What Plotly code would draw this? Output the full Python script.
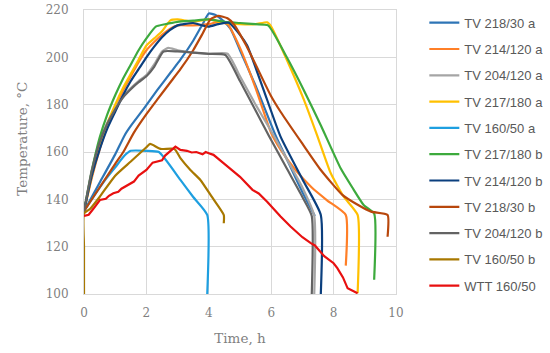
import plotly.graph_objects as go

# ---------------- data ----------------
names = ["TV 218/30 a", "TV 214/120 a", "TV 204/120 a", "TV 217/180 a", "TV 160/50 a",
         "TV 217/180 b", "TV 214/120 b", "TV 218/30 b", "TV 204/120 b", "TV 160/50 b",
         "WTT 160/50"]
colors = ["#2E75B6", "#FF7F27", "#A5A5A5", "#FFC000", "#1E9FE0",
          "#3DAA3D", "#0B3F7E", "#B8470C", "#636363", "#A87800", "#E81010"]

t_218_30_a = [0, 0.5, 1.0, 1.3, 1.5, 1.9, 2.34, 2.8, 3.09, 3.5, 3.8, 4.0, 4.2, 4.5, 4.7, 5.0, 5.5, 6.14, 6.5, 7.0, 7.4]
T_218_30_a = [135, 147, 159, 167, 171, 178, 186, 194, 199, 207, 214, 218.5, 218, 215, 212, 203, 188, 167, 157, 143, 133]

t_214_120_a = [0, 0.25, 0.5, 0.75, 1.0, 1.25, 1.5, 1.75, 2.0, 2.25, 2.5, 2.75, 3.0, 3.5, 4.0, 4.3, 4.6, 5.0, 5.5, 6.0, 6.3, 6.78, 7.3, 7.8, 8.39, 8.39]
T_214_120_a = [135, 149, 161, 171, 179, 186, 192, 198, 203, 206.5, 209.5, 212, 213.5, 213.5, 214, 215, 214, 204, 187, 168, 161, 152.4, 145, 139.5, 133.4, 112]

t_204_120_a = [0, 0.25, 0.5, 0.75, 1.0, 1.25, 1.5, 1.75, 2.0, 2.25, 2.5, 2.7, 3.0, 3.5, 4.0, 4.6, 5.0, 5.5, 6.08, 6.5, 7.0, 7.38, 7.38]
T_204_120_a = [135, 152.5, 164.5, 172.5, 178.5, 183.5, 187, 190, 192.5, 197, 202.5, 204, 203, 202, 201.5, 201.5, 192, 180, 167, 157, 145, 133, 100]

t_217_180_a = [0, 0.25, 0.5, 0.75, 1.0, 1.25, 1.5, 1.75, 2.0, 2.25, 2.5, 2.77, 3.0, 3.25, 3.5, 4.0, 4.5, 5.0, 5.5, 5.87, 6.0, 6.5, 7.05, 7.5, 7.91, 8.33, 8.77, 8.77]
T_217_180_a = [135, 150, 162, 172, 180, 187, 193, 199, 205, 208, 211, 215.6, 216, 215.5, 215, 216, 214.5, 214, 214, 214.8, 213, 199, 182, 166, 151, 141, 133.4, 100.3]

t_160_50_a = [0, 0.3, 0.68, 1.0, 1.3, 1.5, 2.0, 2.4, 3.09, 3.5, 3.95, 3.95]
T_160_50_a = [135, 141, 148.2, 153.5, 158.5, 160.5, 160.5, 160, 148.2, 141, 133.4, 100]

t_217_180_b = [0, 0.25, 0.5, 0.75, 1.0, 1.25, 1.5, 1.75, 2.0, 2.3, 2.6, 3.0, 3.5, 4.0, 4.5, 5.0, 5.5, 5.9, 6.5, 7.05, 7.6, 8.23, 8.6, 8.97, 9.3, 9.3]
T_217_180_b = [135, 152, 166, 176, 184, 191, 197, 203, 208, 213, 214, 215, 215.5, 216, 215, 214.5, 214, 213.5, 200, 186, 171, 153, 145, 137.5, 134, 106]

t_214_120_b = [0, 0.25, 0.5, 0.75, 1.0, 1.25, 1.5, 1.75, 2.0, 2.25, 2.5, 2.75, 3.0, 3.5, 3.8, 4.0, 4.3, 4.64, 5.0, 5.23, 5.75, 6.3, 7.0, 7.59, 7.59]
T_214_120_b = [135, 150, 161, 170, 177, 184, 190, 195, 200, 204.5, 208.5, 211.5, 213.5, 214.5, 213.5, 213, 214, 214.6, 209.5, 205, 186.5, 166.5, 148.5, 133.4, 100]

t_218_30_b = [0, 0.5, 1.0, 1.26, 1.59, 2.0, 2.34, 2.8, 3.09, 3.5, 3.8, 4.05, 4.3, 4.6, 4.8, 5.2, 5.5, 5.98, 6.3, 7.0, 7.59, 8.28, 8.8, 9.2, 9.73, 9.73]
T_218_30_b = [135, 145, 155, 160, 168, 176, 182, 190, 195, 203, 210, 216, 217.5, 216.5, 214, 205, 197, 184, 177, 163.5, 152.4, 141.9, 137.5, 134.8, 133.4, 124.2]

t_204_120_b = [0, 0.25, 0.5, 0.75, 1.0, 1.25, 1.5, 1.75, 2.0, 2.25, 2.55, 3.0, 3.5, 4.0, 4.53, 5.0, 5.5, 5.92, 6.5, 7.0, 7.3, 7.3]
T_204_120_b = [135, 152, 164, 172, 178, 183, 186.5, 189.5, 192, 196, 202.5, 202.5, 202, 201.5, 201, 190, 177.5, 167, 153, 141, 133, 100]

t_160_50_b = [0, 0, 0, 0.2, 0.5, 1.0, 1.5, 2.0, 2.12, 2.45, 2.9, 3.09, 3.41, 3.73, 4.1, 4.48, 4.48]
T_160_50_b = [100, 120, 134, 136, 141, 150, 156, 162, 163.4, 161.3, 161.3, 157.4, 152.4, 148.2, 141, 133.4, 129.9]

t_wtt = [0, 0.15, 0.3, 0.51, 0.7, 0.8, 0.94, 1.1, 1.2, 1.48, 1.6, 1.75, 2.0, 2.2, 2.34, 2.5, 2.6, 2.93, 3.09, 3.3, 3.45, 3.6, 3.8, 3.9, 4.0, 4.15, 4.5, 5.0, 5.4, 5.6, 5.87, 6.3, 6.62, 7.0, 7.27, 7.4, 7.7, 8.0, 8.12, 8.3, 8.45, 8.77]
T_wtt = [133, 133.5, 136, 139.7, 140.2, 141.5, 142.6, 143.2, 144.5, 146.8, 147.5, 150, 152.4, 155.5, 156, 156.5, 158.5, 162.3, 160.9, 160.5, 159.8, 160, 159, 160, 159.5, 158.8, 155, 149.5, 144, 142.5, 139, 132.7, 128.5, 124, 121.5, 120.5, 116, 113, 110.9, 107, 102.4, 100.3]

series_t = [t_218_30_a, t_214_120_a, t_204_120_a, t_217_180_a, t_160_50_a,
            t_217_180_b, t_214_120_b, t_218_30_b, t_204_120_b, t_160_50_b, t_wtt]
series_T = [T_218_30_a, T_214_120_a, T_204_120_a, T_217_180_a, T_160_50_a,
            T_217_180_b, T_214_120_b, T_218_30_b, T_204_120_b, T_160_50_b, T_wtt]

x_ticks = [0, 2, 4, 6, 8, 10]
y_ticks = [100, 120, 140, 160, 180, 200, 220]
x_title = "Time, h"
y_title = "Temperature, °C"

# ---------------- figure ----------------
fig = go.Figure()
for i, (nm, c, tx, ty) in enumerate(zip(names, colors, series_t, series_T)):
    shape = "linear" if nm.startswith("WTT") else "spline"
    fig.add_trace(go.Scatter(x=tx, y=ty, name=nm, mode="lines",
                             line=dict(color=c, width=2.2, shape=shape, smoothing=0.5),
                             legendgroup=f"g{i}"))

tick_font = dict(family="DejaVu Serif", size=12, color="#7F7F7F")
title_font = dict(family="DejaVu Serif", size=13.5, color="#7F7F7F")
fig.update_layout(
    width=550, height=353,
    margin=dict(l=84, r=154, t=10, b=59, autoexpand=False),
    paper_bgcolor="white", plot_bgcolor="white",
    showlegend=True,
    legend=dict(xref="container", yref="container", x=0.7715, xanchor="left", y=0.978, yanchor="top",
                font=dict(family="Liberation Sans", size=13, color="#595959"),
                tracegroupgap=6.4, bgcolor="rgba(0,0,0,0)", itemwidth=30, maxheight=353),
    xaxis=dict(range=[0, 10], tickvals=x_ticks, showgrid=True, gridcolor="#D9D9D9", gridwidth=1,
               zeroline=False, showline=True, linecolor="#D9D9D9", mirror=True, automargin=False,
               tickfont=tick_font, ticks="", ticklabelstandoff=8, layer="below traces",
               title=dict(text=x_title, font=title_font, standoff=14)),
    yaxis=dict(range=[100, 220], tickvals=y_ticks, showgrid=True, gridcolor="#D9D9D9", gridwidth=1,
               zeroline=False, showline=True, linecolor="#D9D9D9", mirror=True, automargin=False,
               tickfont=tick_font, ticks="", ticklabelstandoff=12, layer="below traces"),
    annotations=[dict(text=y_title, xref="paper", yref="paper", x=-62 / 312, y=0.547,
                      xanchor="center", yanchor="middle", textangle=-90, showarrow=False,
                      font=title_font)],
)
fig.write_html("out.html", config={"displayModeBar": False},
               post_script="document.body.style.margin='0';")
